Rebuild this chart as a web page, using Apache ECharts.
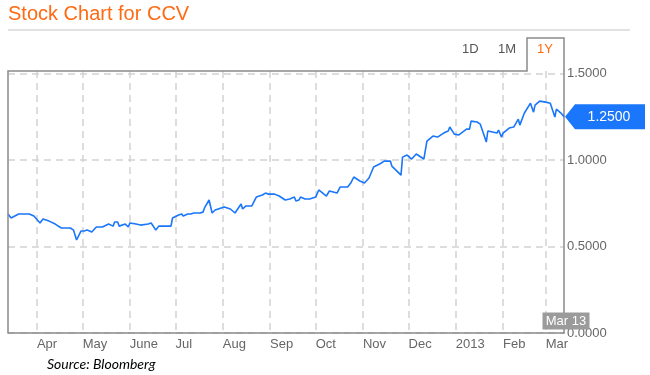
<!DOCTYPE html>
<html>
<head>
<meta charset="utf-8">
<script src="https://cdn.jsdelivr.net/npm/echarts@6/dist/echarts.min.js"></script>
<style>
  html, body { margin: 0; padding: 0; background: #fff; }
  #chart { width: 650px; height: 375px; }
</style>
</head>
<body>
<div id="chart"></div>
<script>
const titleText = 'Stock Chart for CCV';
const sourceText = 'Source: Bloomberg';
const tabLabels = ['1D', '1M', '1Y'];

const dates = [
  '2012-03-13','2012-03-15','2012-03-20','2012-03-23','2012-03-27','2012-03-30',
  '2012-04-03','2012-04-05','2012-04-09','2012-04-13','2012-04-17','2012-04-23','2012-04-25','2012-04-27','2012-04-30',
  '2012-05-02','2012-05-04','2012-05-07','2012-05-10','2012-05-14','2012-05-18','2012-05-21','2012-05-22','2012-05-24','2012-05-25','2012-05-29','2012-05-31',
  '2012-06-01','2012-06-05','2012-06-08','2012-06-13','2012-06-15','2012-06-18','2012-06-20','2012-06-25','2012-06-28','2012-06-29',
  '2012-07-03','2012-07-05','2012-07-06','2012-07-09','2012-07-11','2012-07-13','2012-07-17','2012-07-19','2012-07-20','2012-07-23','2012-07-25','2012-07-27','2012-07-31',
  '2012-08-02','2012-08-06','2012-08-09','2012-08-10','2012-08-13','2012-08-14','2012-08-16','2012-08-20','2012-08-23','2012-08-24','2012-08-27','2012-08-29','2012-08-31',
  '2012-09-04','2012-09-07','2012-09-11','2012-09-14','2012-09-17','2012-09-18','2012-09-20','2012-09-21','2012-09-24','2012-09-27',
  '2012-10-01','2012-10-03','2012-10-08','2012-10-10','2012-10-15','2012-10-17','2012-10-22','2012-10-24','2012-10-26','2012-10-30',
  '2012-11-02','2012-11-05','2012-11-08','2012-11-12','2012-11-15','2012-11-19','2012-11-20','2012-11-21','2012-11-26','2012-11-27','2012-11-30',
  '2012-12-03','2012-12-06','2012-12-07','2012-12-11','2012-12-13','2012-12-17','2012-12-20','2012-12-24','2012-12-27','2012-12-28','2012-12-31',
  '2013-01-03','2013-01-04','2013-01-08','2013-01-10','2013-01-11','2013-01-15','2013-01-17','2013-01-21','2013-01-22','2013-01-25','2013-01-28','2013-01-29','2013-01-31',
  '2013-02-01','2013-02-05','2013-02-08','2013-02-11','2013-02-12','2013-02-15','2013-02-19','2013-02-21','2013-02-22','2013-02-25',
  '2013-03-01','2013-03-04','2013-03-05','2013-03-07','2013-03-08','2013-03-11','2013-03-13'
];
const prices = [
  0.688,0.665,0.688,0.688,0.688,0.676,
  0.636,0.659,0.647,0.630,0.607,0.607,0.595,0.538,0.590,
  0.590,0.595,0.584,0.613,0.613,0.630,0.618,0.642,0.642,0.618,0.630,0.613,
  0.636,0.630,0.624,0.630,0.636,0.595,0.618,0.618,0.618,0.665,
  0.682,0.688,0.676,0.688,0.688,0.694,0.694,0.699,0.723,0.769,0.694,0.711,0.723,
  0.728,0.717,0.694,0.694,0.746,0.717,0.734,0.734,0.786,0.792,0.798,0.809,0.803,
  0.803,0.792,0.769,0.775,0.786,0.763,0.769,0.786,0.775,0.775,
  0.786,0.827,0.792,0.821,0.809,0.844,0.844,0.867,0.902,0.879,
  0.867,0.896,0.960,0.977,0.994,0.994,0.965,0.971,0.913,1.017,1.029,
  1.006,1.035,1.035,1.006,1.110,1.139,1.133,1.156,1.168,1.191,1.150,
  1.145,1.156,1.179,1.179,1.225,1.220,1.208,1.104,1.168,1.162,1.156,1.173,1.133,
  1.156,1.185,1.191,1.237,1.202,1.272,1.329,1.277,1.318,1.341,
  1.335,1.329,1.329,1.249,1.295,1.272,1.250
];

const monthStarts = ['2012-04-01','2012-05-01','2012-06-01','2012-07-01','2012-08-01','2012-09-01',
  '2012-10-01','2012-11-01','2012-12-01','2013-01-01','2013-02-01','2013-03-01'];
const monthLabels = ['Apr','May','June','Jul','Aug','Sep','Oct','Nov','Dec','2013','Feb','Mar'];
const yTicks = [0, 0.5, 1.0, 1.5];
const xStart = '2012-03-13';
const xEnd = '2013-03-13';
const lastDateLabel = 'Mar 13';

function toTime(s) {
  const p = s.split('-').map(Number);
  return Date.UTC(p[0], p[1] - 1, p[2]);
}

const monthTimes = monthStarts.map(toTime);
const labelByTime = {};
monthTimes.forEach((t, i) => { labelByTime[t] = monthLabels[i]; });

const seriesData = dates.map((d, i) => [toTime(d), prices[i]]);
const lastPoint = seriesData[seriesData.length - 1];

const chart = echarts.init(document.getElementById('chart'), null, { renderer: 'canvas' });

const gridColor = '#d2d2d2';
const frameColor = '#8a8a8a';
const orange = '#ff6a13';
const blue = '#1a76fa';

chart.setOption({
  animation: false,
  backgroundColor: '#fff',
  textStyle: { fontFamily: 'Liberation Sans, Arial, sans-serif' },
  title: {
    text: titleText,
    left: 3,
    top: 0,
    padding: [4, 5],
    textStyle: { color: orange, fontSize: 20, fontWeight: 'normal', fontFamily: 'Liberation Sans, Arial, sans-serif' }
  },
  grid: { left: 8, right: 86, top: 71, bottom: 42, show: false, containLabel: false },
  xAxis: {
    type: 'value',
    min: toTime(xStart),
    max: toTime(xEnd),
    axisLine: { show: true, onZero: false, lineStyle: { color: frameColor, width: 1.5 } },
    axisTick: { show: false, customValues: monthTimes },
    axisLabel: {
      customValues: monthTimes,
      align: 'left',
      margin: 5,
      color: '#666',
      fontSize: 13,
      formatter: (v) => labelByTime[v] || ''
    },
    splitLine: { show: true, lineStyle: { color: gridColor, type: [7, 5], width: 1.5 } }
  },
  yAxis: {
    type: 'value',
    position: 'right',
    min: 0,
    max: 1.515,
    axisLine: { show: true, lineStyle: { color: frameColor, width: 1.5 } },
    axisTick: { show: false, customValues: yTicks },
    axisLabel: {
      customValues: yTicks,
      margin: 3,
      color: '#666',
      fontSize: 13,
      padding: [7, 0, 0, 0],
      formatter: (v) => Number(v).toFixed(4)
    },
    splitLine: { show: true, lineStyle: { color: gridColor, type: [7, 5], width: 1.5 } }
  },
  series: [{
    type: 'line',
    data: seriesData,
    showSymbol: false,
    symbol: 'none',
    lineStyle: { color: blue, width: 1.6 },
    z: 5,
    markPoint: {
      silent: true,
      animation: false,
      data: [
        {
          coord: lastPoint,
          symbol: 'path://M0,12.5 L10,0 L80,0 L80,25 L10,25 Z',
          symbolSize: [80, 25],
          symbolKeepAspect: false,
          symbolOffset: [41, 0],
          itemStyle: { color: blue },
          label: {
            show: true,
            position: 'inside',
            offset: [4, 0],
            color: '#fff',
            fontSize: 14,
            formatter: () => lastPoint[1].toFixed(4)
          }
        },
        {
          coord: [lastPoint[0], 0],
          symbol: 'rect',
          symbolSize: [47, 17],
          symbolOffset: [2, -12],
          itemStyle: { color: '#9b9b9b' },
          label: {
            show: true,
            position: 'inside',
            color: '#fff',
            fontSize: 13,
            formatter: () => lastDateLabel
          }
        }
      ]
    }
  }],
  graphic: [
    {
      type: 'line',
      shape: { x1: 8, y1: 30, x2: 630, y2: 30 },
      style: { stroke: '#d9d9d9', lineWidth: 1.5 },
      silent: true
    },
    {
      type: 'polyline',
      shape: { points: [[8, 333], [8, 71], [527, 71], [527, 38], [564, 38], [564, 71]] },
      style: { stroke: frameColor, lineWidth: 1.5, fill: null },
      silent: true,
      z: 10
    },
    {
      type: 'text', left: 462, top: 43,
      style: { text: tabLabels[0], fill: '#555', font: '13px Liberation Sans, Arial, sans-serif' }
    },
    {
      type: 'text', left: 498, top: 43,
      style: { text: tabLabels[1], fill: '#555', font: '13px Liberation Sans, Arial, sans-serif' }
    },
    {
      type: 'text', left: 537, top: 43,
      style: { text: tabLabels[2], fill: orange, font: '13px Liberation Sans, Arial, sans-serif' }
    },
    {
      type: 'text', left: 47, top: 357,
      style: { text: sourceText, fill: '#000', font: 'italic 14px Lato, Open Sans, sans-serif' }
    }
  ]
});
</script>
</body>
</html>
